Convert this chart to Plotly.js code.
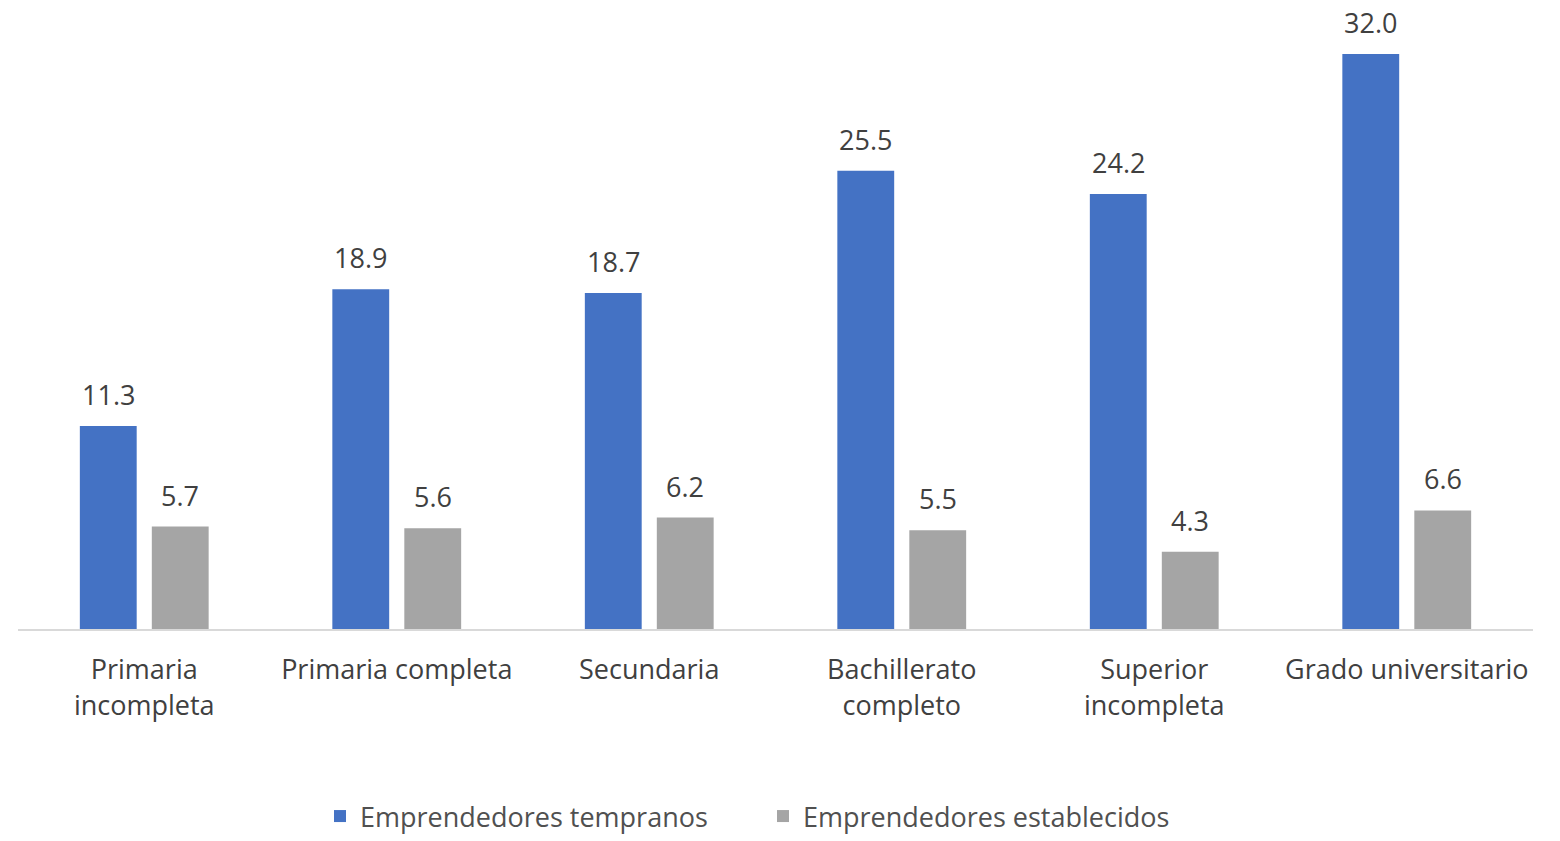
<!DOCTYPE html>
<html><head><meta charset="utf-8">
<script src="https://cdn.plot.ly/plotly-3.0.1.min.js"></script>
<style>html,body{margin:0;padding:0;background:#fff}#chart{width:1560px;height:841px}</style>
</head><body><div id="chart"></div>
<script>
const categories = ["Primaria<br>incompleta","Primaria completa","Secundaria","Bachillerato<br>completo","Superior<br>incompleta","Grado universitario"];
const tempranos = [11.3, 18.9, 18.7, 25.5, 24.2, 32.0];
const establecidos = [5.7, 5.6, 6.2, 5.5, 4.3, 6.6];
const seriesNames = ["Emprendedores tempranos","Emprendedores establecidos"];
const colors = ["#4472C4","#A5A5A5"];
const FONT = "'Open Sans', Lato, sans-serif";
const txtColor = "#404040";

const traces = [tempranos, establecidos].map((vals,i)=>({
  type:"bar", x:categories, y:vals, name:seriesNames[i],
  marker:{color:colors[i]}, hoverinfo:"none"
}));

const annotations = [];
[tempranos, establecidos].forEach((vals,i)=>{
  vals.forEach((v,j)=>{
    annotations.push({x:categories[j], y:v, xref:"x", yref:"y", text:v.toFixed(1),
      showarrow:false, xshift: i===0?-36:36, yanchor:"bottom", yshift:11,
      font:{family:FONT,size:27,color:txtColor}});
  });
});

const layout = {
  width:1560, height:841,
  margin:{l:18,r:27,t:0,b:212, autoexpand:false},
  paper_bgcolor:"#fff", plot_bgcolor:"#fff",
  barmode:"group", bargap:0.43, bargroupgap:0.21,
  font:{family:FONT,size:27,color:txtColor},
  xaxis:{showline:true, linecolor:"#D9D9D9", linewidth:2, ticks:"outside", ticklen:16, tickcolor:"rgba(0,0,0,0)",
    tickfont:{family:FONT,size:27,color:txtColor}, showgrid:false, zeroline:false, automargin:false},
  yaxis:{range:[0,35], visible:false, showgrid:false, zeroline:false},
  showlegend:true,
  legend:{orientation:"h", xref:"container", x:320/1560, xanchor:"left", yref:"container", y:-0.006, yanchor:"bottom",
    font:{family:FONT,size:27,color:"#505050"}, itemwidth:30, entrywidth:398, traceorder:"normal"},
  annotations:annotations
};
Plotly.newPlot("chart", traces, layout, {staticPlot:true});
</script></body></html>
